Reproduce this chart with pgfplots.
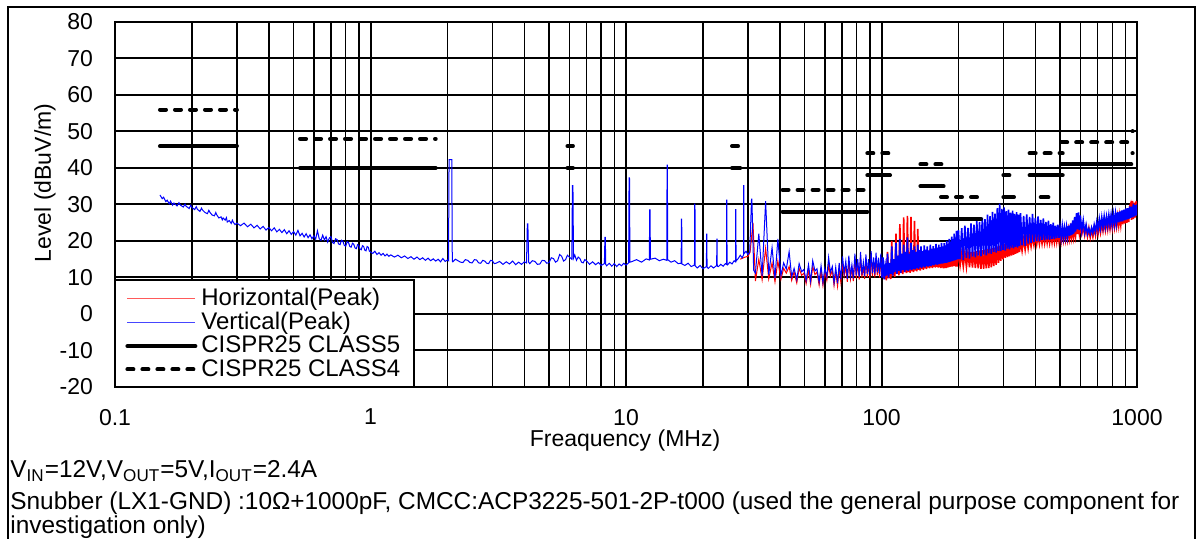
\documentclass[border=0pt]{standalone}
\usepackage{fontspec}
\setmainfont{Liberation Sans}
\usepackage{pgfplots}
\pgfplotsset{compat=1.18}
\definecolor{trred}{RGB}{255,0,0}
\definecolor{trblue}{RGB}{0,0,255}
\definecolor{legred}{RGB}{255,90,90}
\definecolor{legblue}{RGB}{70,70,255}

\begin{document}
\fontsize{11.5}{13.8}\selectfont
\begin{tikzpicture}[x=1pt,y=1pt]
\begin{axis}[
  name=ax,
  at={(57.5pt,76pt)}, anchor=south west,
  scale only axis, width=511pt, height=182.5pt,
  xmode=log, xmin=0.1, xmax=1000, ymin=-20, ymax=80,
  xtick={0.1,1,10,100,1000}, xticklabels={0.1,1,10,100,1000},
  ytick={-20,-10,...,80}, yticklabels={-20,-10,0,10,20,30,40,50,60,70,80},
  grid=both,
  major grid style={black, line width=1pt},
  minor grid style={black, line width=0.75pt},
  axis line style={black, line width=1.1pt},
  tick style={black, line width=0.7pt},
  tick align=inside, major tick length=3pt, minor tick length=3pt,
  ticklabel style={font=\fontsize{11.5}{13.8}\selectfont},
  yticklabel style={xshift=-7pt},
  xticklabel style={yshift=-7pt},
  legend cell align=left,
  legend style={at={(0,0)}, anchor=south west, draw=none,
    fill=white, font=\fontsize{12}{12}\selectfont,
    inner xsep=5pt, inner ysep=1.5pt, row sep=-2.4pt},
  legend image code/.code={\draw[#1] (0pt,0pt) -- (34pt,0pt);},
  unbounded coords=jump,
]

% Horizontal (red), lower part
\addplot[draw=trred, line width=0.5pt, forget plot] coordinates {
(28.0,15.0)(29.0,15.5)(30.0,15.8)(30.6,17.0)(31.4,25.0)(32.1,9.0)(33.1,15.0)(34.1,9.4)(35.2,18.0)(36.2,9.6)
(37.3,14.0)(38.3,8.8)(39.3,14.5)(40.4,9.5)(41.4,12.5)(42.4,11.2)(43.5,13.0)(44.5,9.2)(45.5,11.5)(46.6,8.5)
(47.6,12.5)(48.7,10.6)(49.7,11.2)(50.7,8.3)(51.8,12.0)(52.8,8.1)(53.8,13.0)(54.9,10.8)(55.9,11.5)(57.0,7.9)
(58.0,12.0)(59.0,7.8)(60.0,11.5)(61.1,9.2)(62.1,13.5)(63.1,10.4)(64.2,12.0)(65.2,7.8)(66.2,11.5)(67.3,7.6)
(68.3,12.5)(69.3,8.7)(70.4,14.0)(71.4,10.3)(72.5,13.0)(73.5,8.8)(74.5,14.5)(75.6,9.6)(76.6,12.5)(77.6,9.0)
(78.7,15.0)(79.7,9.8)(80.7,14.0)(81.8,9.4)(82.8,15.5)(83.8,10.0)(84.9,13.0)(85.9,9.6)(86.9,15.0)(88.0,10.2)
(89.0,14.0)(90.0,9.8)(91.1,16.0)(92.1,10.4)(93.2,14.5)(94.2,10.0)(95.2,15.5)(96.3,10.6)(97.3,14.0)(98.3,10.0)
(99.4,15.0)(100.4,10.5)
};

% Horizontal (red), upper part
\addplot[draw=trred, line width=0.8pt, forget plot] coordinates {
(100.4,10.5)(101.4,13.0)(102.5,9.6)(103.5,12.5)(104.5,9.2)(105.6,17.0)(106.6,9.8)(107.6,13.0)(108.7,9.6)
(109.7,20.0)(110.7,10.5)(111.8,14.0)(112.8,10.2)(113.9,22.0)(114.9,11.0)(115.9,15.0)(117.0,10.6)(118.0,24.6)(119.0,11.3)
(120.1,16.0)(121.1,10.9)(122.1,26.5)(123.2,11.5)(124.2,17.0)(125.2,11.2)(126.3,26.9)(127.3,11.5)(128.3,17.0)(129.4,11.3)
(130.4,26.6)(131.4,11.7)(132.5,17.0)(133.5,11.5)(134.6,25.5)(135.6,11.9)(136.6,16.5)(137.6,11.7)(138.7,23.3)(139.7,12.1)
(140.8,16.5)(141.8,11.9)(142.8,17.5)(143.9,12.3)(144.9,16.5)(145.9,12.1)(147.0,17.5)(148.0,12.5)(149.0,16.8)(150.1,12.3)
(151.1,17.5)(152.1,12.7)(153.2,16.8)(154.2,12.5)(155.3,18.0)(156.3,12.8)(157.3,17.0)(158.3,12.6)(159.4,17.8)(160.4,12.9)
(161.5,17.2)(162.5,12.7)(163.5,18.0)(164.6,12.9)(165.6,17.4)(166.6,12.7)(167.7,18.0)(168.7,12.8)(169.7,17.5)(170.8,12.6)
(171.8,18.4)(172.8,12.7)(173.9,17.6)(174.9,12.5)(176.0,18.2)(177.0,12.6)(178.0,17.8)(179.0,12.6)(180.1,18.8)(181.1,12.7)
(182.2,18.2)(183.2,12.8)(184.2,19.4)(185.3,12.9)(186.3,18.8)(187.3,13.0)(188.4,19.8)(189.4,13.0)(190.4,19.2)(191.5,13.1)
(192.5,20.2)(193.5,13.1)(194.6,19.6)(195.6,13.0)(196.7,20.8)(197.7,13.0)(198.7,20.2)
(200,16.5)(203,13.2)(206,16.6)(209,13.0)(212,16.8)(215,12.9)(218,16.9)(221,12.8)(224,17.0)(227,12.7)
(230,17.1)(233,12.6)(236,17.2)(239,12.5)(242,17.4)(245,12.4)(248,17.5)(251,12.4)(254,17.6)(257,12.5)
(260,17.8)(263,12.6)(266,17.9)(269,12.8)(272,18.0)(275,13.1)(278,18.2)(281,13.5)(284,18.5)(287,14.0)
(290,18.7)(293,14.6)(296,19.0)(299,15.0)(302,19.2)(305,15.4)(308,19.3)(311,15.6)(314,19.4)(317,15.8)
(320,19.5)(323,16.0)(326,19.7)(329,16.2)(332,19.8)(335,16.5)(338,19.9)(341,16.7)(344,20.0)(347,17.0)
(350,20.2)(355,17.3)(360,20.5)(365,17.6)(370,20.8)(375,18.0)(380,21.0)(385,18.5)(390,21.2)(395,18.9)
(400,21.5)(405,19.1)(410,21.6)(415,19.2)(420,21.8)(425,19.3)(430,21.9)(435,19.4)(440,22.0)(445,19.5)
(450,22.0)(455,19.5)(460,22.0)(465,19.6)(470,22.2)(475,19.7)(480,22.3)(485,19.8)(490,22.4)(495,20.0)
(500,22.6)(505,20.1)(510,22.7)(515,20.3)(520,22.8)(525,20.4)(530,22.9)(535,20.5)(540,23.0)(545,20.7)
(550,23.2)(555,20.9)(560,23.4)(565,21.1)(570,23.8)(575,21.5)(580,24.5)(585,21.9)(590,24.5)(595,22.0)
(600,24.0)(608,21.9)(616,23.9)(624,21.6)(632,23.8)(640,21.3)(648,23.5)(656,21.0)(664,23.2)(672,21.2)
(680,23.6)(688,21.6)(696,24.2)(704,22.0)(712,24.6)(720,22.4)(728,25.0)(736,22.8)(744,25.2)(752,23.0)
(760,25.5)(768,23.2)(776,25.8)(784,23.4)(792,26.0)(800,23.6)(808,26.2)(816,23.8)(824,26.4)(832,24.0)
(840,26.7)(848,24.2)(856,27.0)(864,24.4)(872,27.4)(880,24.6)(888,27.8)(896,24.8)(904,28.2)(912,25.0)
(920,28.5)(928,25.2)(936,29.4)(944,30.2)(952,25.8)(960,31.0)(968,26.0)(976,30.5)(984,26.4)(992,31.0)(1000,27.0)
};

% Vertical (blue), lower part
\addplot[draw=trblue, line width=0.5pt, forget plot] coordinates {
(0.150,32.6)(0.153,31.6)(0.155,32.0)(0.158,30.8)(0.160,31.2)(0.163,30.2)(0.165,30.9)(0.168,29.8)(0.170,30.4)(0.175,29.6)
(0.178,30.5)(0.180,29.9)(0.185,29.3)(0.188,30.1)(0.190,29.5)(0.195,28.9)(0.198,29.8)(0.200,29.2)(0.205,28.6)(0.208,29.4)
(0.210,28.7)(0.215,28.1)(0.218,29.0)(0.220,28.5)(0.225,27.8)(0.230,27.5)(0.233,28.4)(0.235,27.9)(0.240,27.1)(0.245,26.9)
(0.248,27.8)(0.250,27.2)(0.255,26.3)(0.260,26.6)(0.263,25.8)(0.265,26.3)(0.270,25.7)(0.273,26.4)(0.275,25.2)(0.280,25.6)
(0.285,24.8)(0.288,25.7)(0.290,25.2)(0.295,24.5)(0.300,24.9)(0.31,24.2)(0.32,24.9)(0.33,23.9)(0.34,24.6)(0.35,23.6)
(0.36,24.3)(0.37,23.3)(0.38,24.0)(0.39,23.0)(0.40,23.7)(0.41,22.8)(0.42,23.6)(0.43,22.5)(0.44,23.2)(0.45,22.3)
(0.46,23.1)(0.47,22.0)(0.48,22.8)(0.49,21.8)(0.50,22.6)(0.51,21.6)(0.52,22.9)(0.53,21.4)(0.54,22.1)(0.55,21.1)
(0.56,22.0)(0.57,20.9)(0.58,21.7)(0.59,20.6)(0.60,21.4)(0.61,20.5)(0.62,22.8)(0.63,20.6)(0.64,20.2)(0.65,21.6)
(0.66,20.3)(0.67,21.2)(0.68,19.7)(0.69,20.8)(0.70,21.2)(0.71,19.6)(0.72,19.3)(0.73,20.6)(0.74,20.4)(0.75,19.2)
(0.76,19.0)(0.77,20.2)(0.78,19.9)(0.79,18.8)(0.80,18.6)(0.81,19.8)(0.82,19.6)(0.83,18.5)(0.84,18.3)(0.85,19.4)
(0.86,19.1)(0.87,18.1)(0.88,17.9)(0.89,19.0)(0.90,18.8)(0.91,17.8)(0.92,17.6)(0.93,18.7)(0.94,18.5)(0.95,17.5)
(0.96,17.3)(0.97,18.5)(0.98,18.3)(0.99,17.2)(1.00,17.0)(1.02,16.6)(1.04,17.2)(1.06,16.3)(1.08,16.8)(1.10,16.1)
(1.12,16.6)(1.14,15.9)(1.16,16.4)(1.18,15.8)(1.20,16.2)(1.24,15.6)(1.28,16.1)(1.32,15.4)(1.36,15.9)(1.40,15.2)
(1.44,15.7)(1.48,15.0)(1.52,15.6)(1.56,14.9)(1.60,15.4)(1.64,14.7)(1.68,15.3)(1.72,14.6)(1.76,15.1)(1.80,14.5)
(1.84,15.0)(1.88,14.3)(1.92,15.2)(1.96,14.4)
(2.00,14.8)(2.02,14.6)(2.03,42.3)(2.08,42.3)(2.09,14.5)
(2.1,14.3)(2.15,15.0)(2.2,14.6)(2.25,14.2)(2.3,14.1)(2.35,14.9)(2.4,14.7)(2.45,14.1)(2.5,14.0)(2.55,14.9)
(2.6,14.8)(2.65,14.0)(2.7,13.9)(2.75,14.7)(2.8,14.5)(2.85,13.9)(2.9,13.8)(2.95,14.7)(3.0,14.6)(3.05,13.8)
(3.1,13.9)(3.2,14.4)(3.3,13.6)(3.4,14.3)(3.5,13.7)(3.6,14.5)(3.7,13.5)(3.8,14.2)(3.9,13.6)(4.0,14.3)
(4.08,14.0)(4.11,24.7)(4.13,24.7)(4.16,14.2)(4.2,13.8)(4.3,14.6)(4.4,14.4)(4.5,13.6)(4.6,13.7)(4.7,14.7)(4.8,14.6)(4.9,13.9)(5.0,14.1)(5.1,15.4)(5.2,15.2)(5.3,14.2)(5.4,14.6)
(5.5,16.3)(5.6,15.8)(5.7,14.5)(5.8,14.9)(5.9,16.1)(6.0,15.6)(6.14,15.0)(6.17,35.2)(6.20,35.2)(6.23,15.3)(6.3,16.2)(6.4,14.7)(6.5,15.6)(6.6,15.2)(6.7,14.2)(6.8,14.0)(6.9,14.9)(7.0,14.6)
(7.2,13.6)(7.4,14.3)(7.6,13.5)(7.8,14.1)(8.0,13.3)(8.23,13.8)(8.27,21.0)(8.30,21.0)(8.33,13.6)(8.4,13.2)(8.6,13.9)
(8.8,13.1)(9.0,13.8)(9.2,13.0)(9.4,13.7)(9.6,13.2)(9.8,13.9)(10.0,13.4)(10.24,14.0)(10.28,37.3)(10.32,37.3)(10.36,14.2)
(10.5,14.3)(11.0,14.9)(11.5,14.2)(12.0,15.1)(12.34,14.8)(12.38,28.5)(12.42,28.5)(12.46,15.0)(13.0,15.3)(13.5,14.6)(14.0,15.0)
(14.44,14.7)(14.48,40.8)(14.52,40.8)(14.56,14.9)(15.0,14.2)(15.5,14.6)(16.0,13.8)(16.44,13.9)(16.48,26.0)(16.52,26.0)(16.56,13.7)(17.0,13.3)
(17.5,13.9)(18.0,13.0)(18.54,13.4)(18.58,30.1)(18.62,30.1)(18.66,13.2)(19.0,12.6)(19.5,13.3)(20.0,12.4)(20.64,13.0)(20.68,21.9)(20.72,21.9)
(20.76,12.8)(21.0,12.5)(21.5,13.2)(22.0,12.6)(22.64,13.3)(22.68,20.5)(22.72,20.5)(22.76,13.1)(23.0,13.0)(23.5,13.6)(24.0,13.1)
(24.5,13.8)(24.74,13.6)(24.78,31.2)(24.82,31.2)(24.86,13.9)(25.0,13.5)(25.5,14.2)(26.0,13.7)(26.5,14.6)(26.84,14.3)(26.88,28.6)(26.92,28.6)
(26.96,14.5)(27.5,15.2)(28.0,16.1)(28.5,15.4)(28.84,16.2)(28.88,35.2)(28.92,35.2)(28.96,16.5)(29.5,17.2)(30.0,16.3)(30.5,17.0)
(31.0,31.5)(31.1,31.5)(31.6,12.0)
(32.1,11.2)(33.1,22.0)(34.1,10.4)(35.2,30.9)(36.2,10.8)(37.3,18.2)(38.3,9.8)(39.3,20.6)(40.4,10.5)(41.4,14.0)
(42.4,12.3)(43.5,17.1)(44.5,10.2)(45.5,12.5)(46.6,9.4)(47.6,13.8)(48.7,11.6)(49.7,12.2)(50.7,9.2)(51.8,13.5)
(52.8,9.0)(53.8,14.6)(54.9,11.8)(55.9,12.4)(57.0,8.8)(58.0,13.2)(59.0,8.6)(60.0,12.5)(61.1,10.2)(62.1,15.5)
(63.1,11.4)(64.2,13.0)(65.2,8.6)(66.2,12.8)(67.3,8.4)(68.3,14.0)(69.3,9.5)(70.4,15.8)(71.4,11.2)(72.5,14.5)
(73.5,9.6)(74.5,16.0)(75.6,10.4)(76.6,13.5)(77.6,9.8)(78.7,16.5)(79.7,10.6)(80.7,15.0)(81.8,10.2)(82.8,17.0)
(83.8,10.8)(84.9,14.2)(85.9,10.4)(86.9,16.3)(88.0,11.0)(89.0,15.0)(90.0,10.6)(91.1,17.2)(92.1,11.2)(93.2,15.5)
(94.2,10.8)(95.2,16.8)(96.3,11.4)(97.3,15.4)(98.3,11.0)(99.4,16.5)(100.4,10.0)
};

% Vertical (blue), upper part
\addplot[draw=trblue, line width=0.8pt, forget plot] coordinates {
(100.4,10.0)(101.4,15.5)(102.5,9.5)(103.5,13.0)(104.5,10.5)(105.6,16.5)(106.6,10.0)(107.6,14.0)(108.7,11.0)(109.7,18.5)
(110.7,10.5)(111.8,15.0)(112.8,11.5)(113.9,19.5)(114.9,11.0)(115.9,16.0)(117.0,11.8)(118.0,20.5)(119.0,11.2)(120.1,16.5)
(121.1,12.0)(122.1,19.0)(123.2,11.5)(124.2,17.0)(125.2,12.0)(126.3,21.0)(127.3,11.8)(128.3,16.5)(129.4,12.2)(130.4,19.5)
(131.4,12.0)(132.5,17.5)(133.5,12.4)(134.6,18.5)(135.6,12.2)(136.6,17.0)(137.6,12.6)(138.7,19.0)(139.7,12.4)(140.8,17.5)
(141.8,12.8)(142.8,18.5)(143.9,12.6)(144.9,17.2)(145.9,13.0)(147.0,18.8)(148.0,12.8)(149.0,17.6)(150.1,13.2)(151.1,18.5)
(152.1,13.0)(153.2,17.4)(154.2,13.2)(155.3,19.0)(156.3,13.1)(157.3,17.8)(158.3,13.4)(159.4,18.6)(160.4,13.3)(161.5,18.0)
(162.5,13.6)(163.5,19.2)(164.6,13.5)(165.6,18.2)(166.6,13.6)(167.7,19.0)(168.7,13.7)(169.7,18.3)(170.8,13.8)(171.8,19.5)
(172.8,13.8)(173.9,18.5)(174.9,13.9)(176.0,19.4)(177.0,14.0)(178.0,18.8)(179.0,14.0)(180.1,20.0)(181.1,14.1)(182.2,19.2)
(183.2,14.2)(184.2,20.6)(185.3,14.3)(186.3,19.8)(187.3,14.4)(188.4,21.2)(189.4,14.5)(190.4,20.5)(191.5,14.6)(192.5,22.0)
(193.5,14.7)(194.6,21.0)(195.6,14.8)(196.7,22.8)(197.7,15.0)(198.7,22.0)(199.4,15.0)
(200,23.0)(203,15.0)(206,23.5)(209,14.8)(212,24.2)(215,15.4)(218,23.6)(221,15.2)(224,24.8)(227,15.7)
(230,24.5)(233,15.5)(236,25.6)(239,16.0)(242,25.2)(245,15.8)(248,26.4)(251,16.3)(254,26.0)(257,16.1)
(260,27.2)(263,16.6)(266,26.8)(269,16.5)(272,28.0)(275,17.0)(278,27.5)(281,16.8)(284,29.0)(287,17.3)
(290,30.2)(293,17.2)(296,28.8)(299,17.6)(302,29.2)(305,17.4)(308,28.2)(311,17.9)(314,28.6)(317,17.7)
(320,27.8)(323,18.2)(326,28.3)(329,18.0)(332,27.4)(335,18.4)(338,27.9)(341,18.2)(344,27.2)(347,18.6)
(350,27.6)(355,18.8)(360,26.9)(365,18.7)(370,27.3)(375,19.3)(380,26.6)(385,19.5)(390,27.4)(395,19.8)
(400,26.3)(405,20.0)(410,26.7)(415,19.9)(420,25.8)(425,20.3)(430,26.2)(435,20.2)(440,25.2)(445,20.4)
(450,25.6)(455,20.3)(460,24.6)(465,20.6)(470,25.0)(475,20.5)(480,24.2)(485,20.8)(490,24.5)(495,20.9)
(500,23.8)(505,21.0)(510,24.0)(515,21.1)(520,23.6)(525,21.2)(530,23.8)(535,21.3)(540,24.2)(545,21.4)
(550,24.8)(555,21.6)(560,25.6)(565,22.0)(570,26.6)(575,22.6)(580,27.6)(585,23.2)(590,27.8)(595,23.0)
(600,27.0)(608,22.8)(616,25.6)(624,22.4)(632,24.4)(640,22.0)(648,23.4)(656,21.9)(664,23.6)(672,22.2)
(680,24.4)(688,22.6)(696,25.2)(704,23.1)(712,26.0)(720,23.6)(728,26.4)(736,23.8)(744,26.7)(752,24.0)
(760,26.6)(768,24.2)(776,27.0)(784,24.4)(792,27.1)(800,24.5)(808,27.3)(816,24.7)(824,27.5)(832,24.9)
(840,27.9)(848,25.1)(856,28.1)(864,25.3)(872,28.4)(880,25.4)(888,28.6)(896,25.7)(904,28.9)(912,25.9)
(920,29.0)(928,26.1)(936,29.5)(944,26.3)(952,29.4)(960,26.5)(968,30.2)(976,26.7)(984,29.8)(992,27.0)
(1000,30.0)
};

% CISPR25 class 5
\addplot[draw=black, line width=2pt, line cap=round, forget plot] coordinates {
(0.15,46)(0.3,46)(0.3,nan)
(0.53,40)(1.8,40)(1.8,nan)
(5.9,40)(6.2,40)(6.2,nan)
(26,40)(28,40)(28,nan)
(41,28)(88,28)(88,nan)
(88,38)(108,38)(108,nan)
(142,35)(175,35)(175,nan)
(171,26)(245,26)(245,nan)
(300,32)(330,32)(330,nan)
(380,38)(512,38)(512,nan)
(420,32)(450,32)(450,nan)
(505,41)(950,41)(950,nan)
(960,44)(962,44)
};

% CISPR25 class 4
\addplot[draw=black, line width=2pt, line cap=round, dash pattern=on 3pt off 4.5pt, forget plot] coordinates {
(0.15,56)(0.3,56)(0.3,nan)
(0.53,48)(1.8,48)(1.8,nan)
(5.9,46)(6.2,46)(6.2,nan)
(26,46)(28,46)(28,nan)
(41,34)(88,34)(88,nan)
(88,44)(108,44)(108,nan)
(142,41)(175,41)(175,nan)
(171,32)(245,32)(245,nan)
(300,38)(330,38)(330,nan)
(380,44)(512,44)(512,nan)
(505,47)(950,47)(950,nan)
(960,50)(962,50)
};

\addlegendimage{draw=legred, line width=0.8pt}
\addlegendentry{Horizontal(Peak)}
\addlegendimage{draw=legblue, line width=0.8pt}
\addlegendentry{Vertical(Peak)}
\addlegendimage{draw=black, line width=2pt, line cap=round}
\addlegendentry{CISPR25 CLASS5}
\addlegendimage{draw=black, line width=2pt, line cap=round, dash pattern=on 3pt off 4.5pt}
\addlegendentry{CISPR25 CLASS4}
\end{axis}

\draw[black, line width=1pt] (57.5,76) rectangle (207,129.5);
\node[rotate=90, anchor=center] at (22.5,178) {Level (dBuV/m)};
\node[anchor=base] at (312.5,46) {Freaquency (MHz)};
\begin{scope}[font=\fontsize{12.2}{14}\selectfont]
\node[anchor=base west, inner sep=0pt] at (5,30.5) {V\textsubscript{IN}=12V,V\textsubscript{OUT}=5V,I\textsubscript{OUT}=2.4A};
\node[anchor=base west, inner sep=0pt] at (5,14.5) {Snubber (LX1-GND) :10Ω+1000pF, CMCC:ACP3225-501-2P-t000 (used the general purpose component for};
\node[anchor=base west, inner sep=0pt] at (5,2.5) {investigation only)};
\end{scope}
\draw[black, line width=0.9pt] (4,0) -- (4,266) -- (597.5,266) -- (597.5,0);

\pgfresetboundingbox
\useasboundingbox (0,0) rectangle (599,269.5);
\end{tikzpicture}
\end{document}
